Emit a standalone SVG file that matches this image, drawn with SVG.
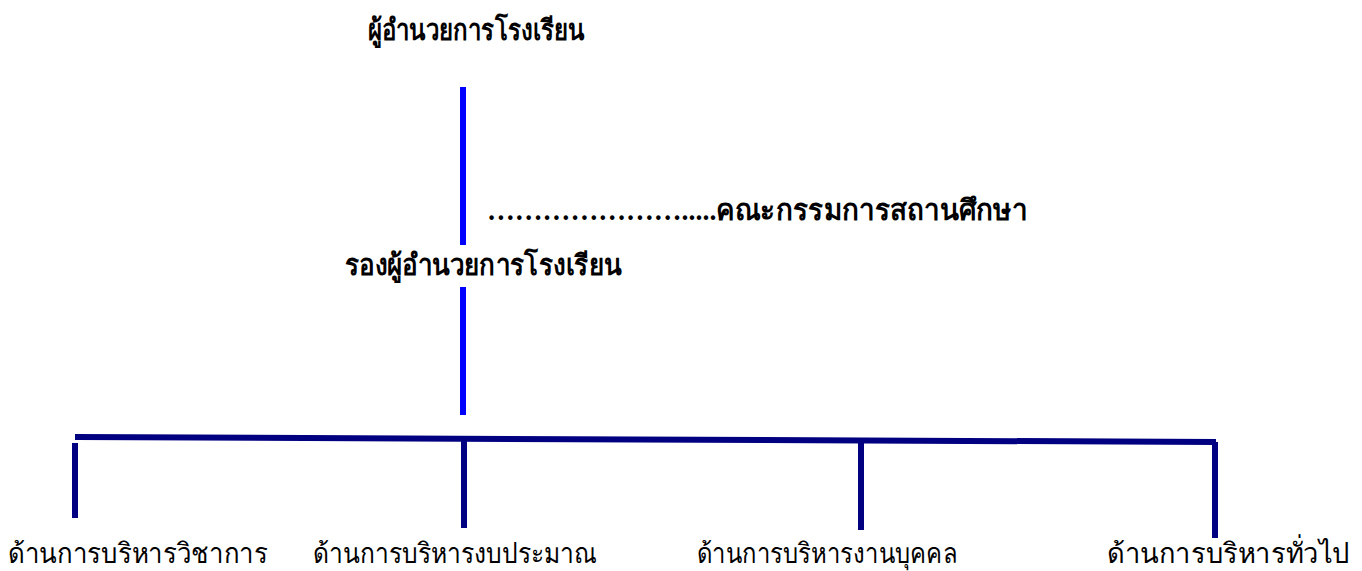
<svg xmlns="http://www.w3.org/2000/svg" width="1362" height="571" viewBox="0 0 1362 571">
<style>
.b{font-family:"Liberation Serif","Noto Sans",serif;font-weight:bold;font-size:29px;fill:#000}
.r{font-family:"Liberation Serif","Noto Sans",serif;font-size:28px;fill:#000}
.blue{stroke:#0000ff;stroke-width:6;fill:none}
.navy{stroke:#000080;stroke-width:6;fill:none}
</style>
<rect width="1362" height="571" fill="#fff"/>
<g id="connectors">
<line class="blue" x1="463" y1="87" x2="463" y2="245"/>
<line class="blue" x1="463" y1="287" x2="463" y2="415"/>
<line class="navy" x1="75" y1="437" x2="1216" y2="442"/>
<line class="navy" x1="75" y1="443" x2="75" y2="518"/>
<line class="navy" x1="464" y1="440" x2="464" y2="528"/>
<line class="navy" x1="861" y1="441" x2="861" y2="530"/>
<line class="navy" x1="1215" y1="442" x2="1215" y2="538"/>
</g>
<g id="director"><text class="b" x="368" y="40" textLength="217" lengthAdjust="spacingAndGlyphs">ผู้อำนวยการโรงเรียน</text></g>
<g id="committee"><text class="b" x="487" y="220" textLength="540" lengthAdjust="spacingAndGlyphs">………………….....คณะกรรมการสถานศึกษา</text></g>
<g id="deputy"><text class="b" x="345" y="275" textLength="277" lengthAdjust="spacingAndGlyphs">รองผู้อำนวยการโรงเรียน</text></g>
<g id="academic"><text class="r" x="8" y="563" textLength="260" lengthAdjust="spacingAndGlyphs">ด้านการบริหารวิชาการ</text></g>
<g id="budget"><text class="r" x="313" y="563" textLength="284" lengthAdjust="spacingAndGlyphs">ด้านการบริหารงบประมาณ</text></g>
<g id="personnel"><text class="r" x="697" y="563" textLength="260" lengthAdjust="spacingAndGlyphs">ด้านการบริหารงานบุคคล</text></g>
<g id="general"><text class="r" x="1107" y="563" textLength="243" lengthAdjust="spacingAndGlyphs">ด้านการบริหารทั่วไป</text></g>
</svg>
